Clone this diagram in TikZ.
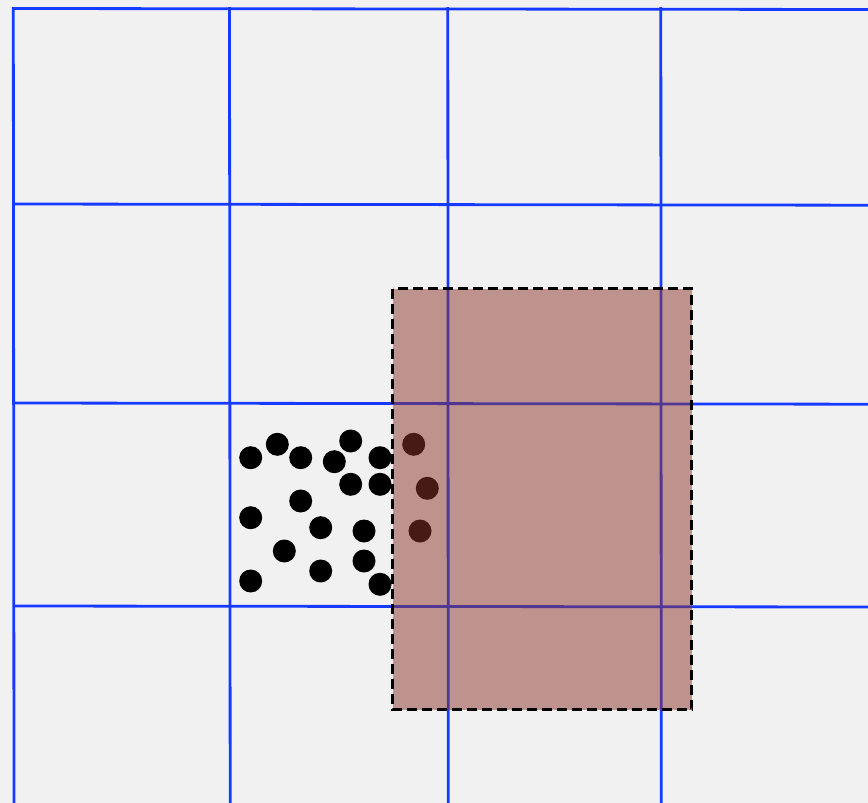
\documentclass[tikz,border=0pt]{standalone}
\begin{document}
\begin{tikzpicture}[x=1pt,y=-1pt,
  gridline/.style={draw=gridblue,line width=2.8pt},
  dot/.style={circle,fill=black,inner sep=0pt,minimum size=23pt},
  zone/.style={fill=zonebrown,fill opacity=0.5,draw=none},
  zoneborder/.style={draw=black,line width=2.4pt,dash pattern=on 10pt off 5pt}]
\definecolor{gridblue}{RGB}{22,58,255}
\definecolor{zonebrown}{RGB}{140,52,42}
\definecolor{bg}{RGB}{241,241,241}
\fill[bg] (0,0) rectangle (868,803);
\useasboundingbox (0,0) rectangle (868,803);
% grid
\draw[gridline] (13,8.5) -- (868,9.5);
\draw[gridline] (13,204) -- (868,205.2);
\draw[gridline] (13,403) -- (868,404.2);
\draw[gridline] (13,606) -- (868,607);
\draw[gridline] (13.3,7.2) -- (14,803);
\draw[gridline] (229.5,7.2) -- (230.2,803);
\draw[gridline] (447.8,7.2) -- (448.3,803);
\draw[gridline] (660.8,7.2) -- (661.3,803);
% particles
\node[dot] (d1) at (250.7,457.7) {};
\node[dot] (d2) at (277.3,444.3) {};
\node[dot] (d3) at (300.7,457.7) {};
\node[dot] (d4) at (334.3,461.7) {};
\node[dot] (d5) at (350.7,441) {};
\node[dot] (d6) at (380,457.7) {};
\node[dot] (d7) at (350.7,484.3) {};
\node[dot] (d8) at (380,484.3) {};
\node[dot] (d9) at (300.7,501) {};
\node[dot] (d10) at (250.7,517.7) {};
\node[dot] (d11) at (320.7,527.7) {};
\node[dot] (d12) at (364,531) {};
\node[dot] (d13) at (284.3,551) {};
\node[dot] (d14) at (364,561) {};
\node[dot] (d15) at (320.7,571) {};
\node[dot] (d16) at (250.7,581) {};
\node[dot] (d17) at (380,584.3) {};
\node[dot] (d18) at (413.7,444.3) {};
\node[dot] (d19) at (427.3,488.3) {};
\node[dot] (d20) at (420,531) {};
% zone
\path[zone] (392.5,288.5) rectangle (691.5,709.5);
\draw[zoneborder] (392.5,288.5) rectangle (691.5,709.5);
\end{tikzpicture}
\end{document}
